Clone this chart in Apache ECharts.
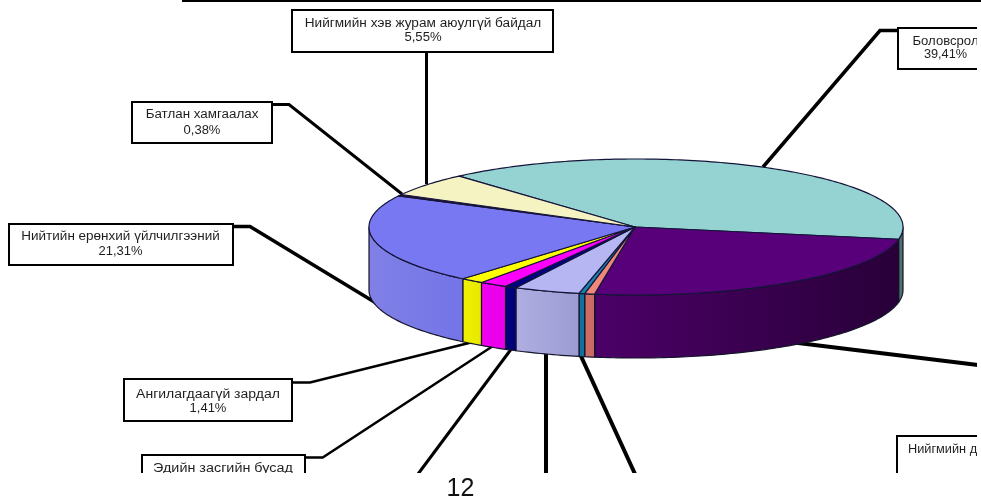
<!DOCTYPE html>
<html><head><meta charset="utf-8">
<style>html,body{margin:0;padding:0;background:#fff}#c{width:981px;height:502px}</style>
<script src="https://cdn.jsdelivr.net/npm/echarts@6/dist/echarts.min.js"></script>
</head><body><div id="c"></div>
<script>
const sliceNames=['Боловсрол','Нийгмийн д','Ангилал 1','Ангилал 2','Ангилал 3','Ангилал 4','Эдийн засгийн бусад','Ангилагдаагүй зардал','Нийтийн ерөнхий үйлчилгээний','Батлан хамгаалах','Нийгмийн хэв журам аюулгүй байдал'];
const sliceValues=[39.41,24.6,0.6,0.35,4,0.7,1.7,1.41,21.31,0.38,5.55];
const topColors=['#94D3D1','#58007A','#F0887A','#1A80AC','#B6B6F2','#000080','#FF00FF','#FFFF00','#7878F2','#3A0A3A','#F6F3C2'];
const sideLeft=['#5A7C7C','#4C0068','#CE6E66','#10709E','#AEAEE2','#000078','#F000F0','#F0F000','#8080E6','#3A0A3A','#C0BE90'];
const sideRight=['#486464','#280038','#C86A62','#10709E','#9C9CD4','#000078','#E800E8','#E8E800','#7474E8','#3A0A3A','#C0BE90'];
const labelLines=[['Нийгмийн хэв журам аюулгүй байдал','5,55%'],['Батлан хамгаалах','0,38%'],['Нийтийн ерөнхий үйлчилгээний','21,31%'],['Ангилагдаагүй зардал','1,41%'],['Боловсрол','39,41%'],['Эдийн засгийн бусад'],['Нийгмийн д']];
const pageNumber='12';

const geo={cx:636,cy:227,rx:267,ry:68,depth:63,start:228.5};
const boxes=[
 {x:292,y:10,w:261,h:42,cx:423,ty:[24,38],sx:[1.09,1.05]},
 {x:132,y:102,w:140,h:41,cx:202,ty:[115,131],sx:[1.07,1.04]},
 {x:9,y:224,w:224,h:41,cx:120.5,ty:[237,252],sx:[1.08,1.04]},
 {x:124,y:379,w:168,h:42,cx:208,ty:[395,409],sx:[1.12,1.04]},
 {x:898,y:28,w:90,h:41,cx:945.5,ty:[42,55],sx:[1.05,1.02]},
 {x:142,y:455,w:163,h:40,cx:223,ty:[469],sx:[1.15]},
 {x:897,y:436,w:90,h:50,cx:908,ty:[450],sx:[1.02],left:true}
];
const leaders=[
 {w:3,p:[[426.5,52],[426.5,184]]},
 {w:3,p:[[402,194],[289,104.5],[272,104.5]]},
 {w:3.5,p:[[376,303],[250,226.5],[233,226.5]]},
 {w:2.5,p:[[473,342],[310,382.5],[292,382.5]]},
 {w:3.5,p:[[763,167],[880,30.5],[898,30.5]]},
 {w:2.5,p:[[496,344],[322.7,457.5],[305,457.5]]},
 {w:3,p:[[512,348],[418,474]]},
 {w:4,p:[[546,350],[546,474]]},
 {w:4,p:[[580,354],[635,474]]},
 {w:4,p:[[790,342],[978,365]]}
];
const total=sliceValues.reduce((a,b)=>a+b,0);
const bounds=[geo.start];
sliceValues.forEach(v=>bounds.push(bounds[bounds.length-1]+v/total*360));
const pt=(deg,dy)=>{const a=deg*Math.PI/180;return [geo.cx+geo.rx*Math.cos(a),geo.cy+geo.ry*Math.sin(a)+(dy||0)];};
function arc(a,b,dy){const n=Math.max(2,Math.ceil(Math.abs(b-a)));const r=[];for(let i=0;i<=n;i++)r.push(pt(a+(b-a)*i/n,dy));return r;}
function frontRanges(a,b){const out=[];[[0,180],[360,540]].forEach(([l,h])=>{const s=Math.max(a,l),e=Math.min(b,h);if(e>s)out.push([s,e]);});return out;}
const sideStroke={stroke:'#14142a',lineWidth:1.2,lineJoin:'round'};
const data=sliceNames.map((n,i)=>({name:n,value:sliceValues[i]}));
function renderSide(params){
 const i=params.dataIndex;const children=[];
 frontRanges(bounds[i],bounds[i+1]).forEach(([s,e])=>{
  const points=arc(s,e,0).concat(arc(e,s,geo.depth));
  children.push({type:'polygon',shape:{points},style:Object.assign({fill:{type:'linear',x:0,y:0,x2:1,y2:0,colorStops:[{offset:0,color:sideLeft[i]},{offset:1,color:sideRight[i]}]}},sideStroke)});
 });
 return {type:'group',children};
}
function renderTop(params){
 const i=params.dataIndex;
 const points=[[geo.cx-1,geo.cy]].concat(arc(bounds[i],bounds[i+1],0));
 return {type:'polygon',shape:{points},style:{fill:topColors[i],stroke:'#14143a',lineWidth:1.2,lineJoin:'round'}};
}
const font='12.5px "Liberation Sans", Arial, sans-serif';
const graphics=[];
leaders.forEach(l=>graphics.push({type:'polyline',z:0,silent:true,shape:{points:l.p},style:{fill:null,stroke:'#000',lineWidth:l.w,lineJoin:'miter'}}));
boxes.forEach((b,i)=>{
 graphics.push({type:'rect',z:20,silent:true,shape:{x:b.x,y:b.y,width:b.w,height:b.h},style:{fill:'#fff',stroke:'#000',lineWidth:2}});
 labelLines[i].forEach((t,j)=>graphics.push({type:'text',z:21,silent:true,x:b.cx,y:b.ty[j],scaleX:b.sx[j],style:{text:t,fill:'#1e1e1e',font,textAlign:b.left?'left':'center',textVerticalAlign:'middle'}}));
});
graphics.push({type:'rect',z:50,silent:true,shape:{x:977,y:2,width:4,height:500},style:{fill:'#fff'}});
graphics.push({type:'rect',z:50,silent:true,shape:{x:0,y:473,width:981,height:29},style:{fill:'#fff'}});
graphics.push({type:'rect',z:51,silent:true,shape:{x:182,y:0,width:799,height:2},style:{fill:'#000'}});
graphics.push({type:'text',z:52,silent:true,x:460.5,y:489,style:{text:pageNumber,fill:'#111',font:'25px "Liberation Sans", Arial, sans-serif',textAlign:'center',textVerticalAlign:'middle'}});
const chart=echarts.init(document.getElementById('c'),null,{renderer:'canvas'});
chart.setOption({
 animation:false,backgroundColor:'#fff',
 graphic:{elements:graphics},
 series:[
  {type:'custom',coordinateSystem:'none',z:5,silent:true,data,renderItem:renderSide},
  {type:'custom',coordinateSystem:'none',z:6,silent:true,data,renderItem:renderTop}
 ]
});
</script></body></html>
